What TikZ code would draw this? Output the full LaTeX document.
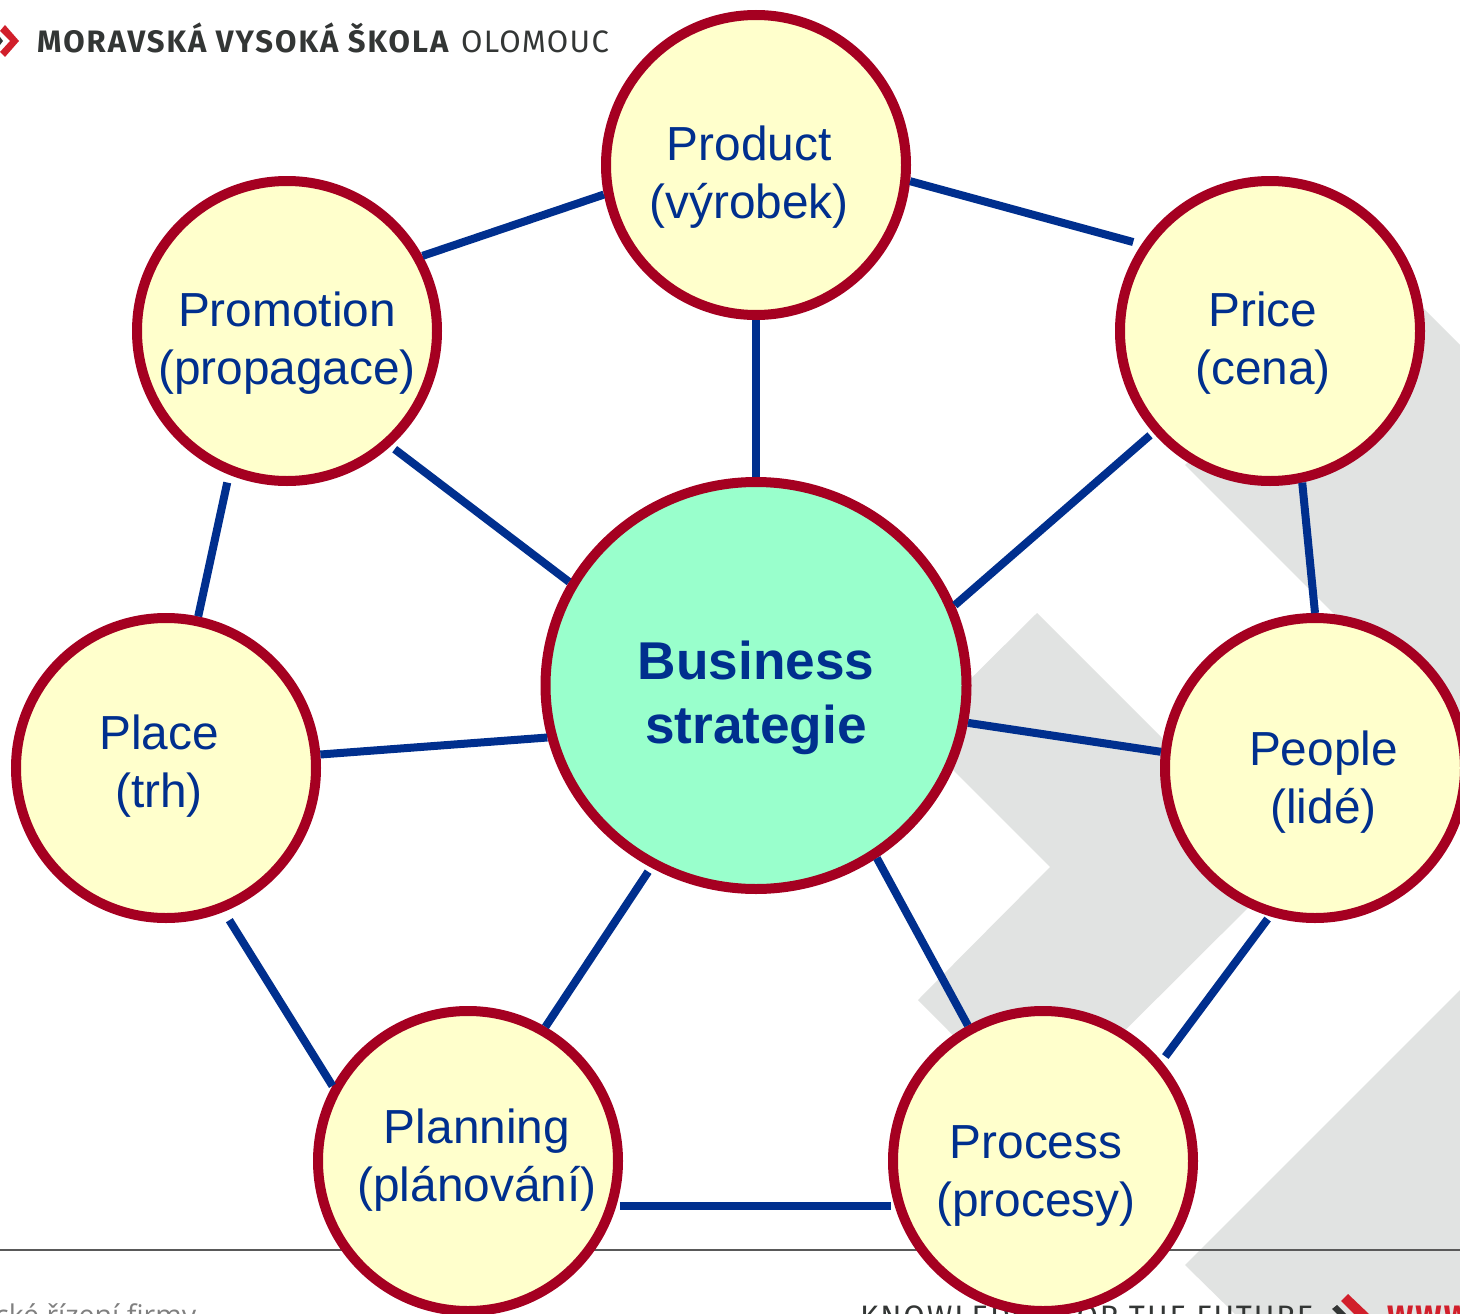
\documentclass[tikz,border=0pt]{standalone}
\usepackage{fontspec}
\usetikzlibrary{shapes.geometric}
\setmainfont{Liberation Sans}
\newfontfamily\logofont[LetterSpace=6.5]{Fira Sans}
\newfontfamily\cityfont[LetterSpace=4.2]{Fira Sans}
\newfontfamily\mottofont[LetterSpace=6.1]{Fira Sans}
\newfontfamily\footfont{Open Sans}
\definecolor{ringred}{HTML}{A50021}
\definecolor{linkblue}{HTML}{002F8E}
\definecolor{paleyellow}{HTML}{FFFFCC}
\definecolor{palegreen}{HTML}{99FFCC}
\definecolor{wmgrey}{HTML}{E1E3E2}
\definecolor{logodark}{HTML}{333635}
\definecolor{logored}{HTML}{D11F2B}
\tikzset{
  ring/.style={circle,draw=ringred,fill=paleyellow,line width=10pt,minimum size=300pt,inner sep=0pt},
  hub/.style={ellipse,draw=ringred,fill=palegreen,line width=10pt,minimum width=421pt,minimum height=407pt,inner sep=0pt},
  lab/.style={text=linkblue,font=\fontsize{47.8pt}{58pt}\selectfont,align=center,inner sep=0pt,anchor=base},
  hublab/.style={text=linkblue,font=\fontsize{53.2pt}{64pt}\selectfont\bfseries,align=center,inner sep=0pt,anchor=base},
  link/.style={draw=linkblue,line width=8pt},
  wm/.style={fill=wmgrey,draw=none}
}
\begin{document}
\begin{tikzpicture}[x=1pt,y=-1pt]
\useasboundingbox (0,0) rectangle (1460,1314);
\clip (0,0) rectangle (1460,1314);
\fill[white] (0,0) rectangle (1460,1314);
% watermark chevrons
\fill[wm] (1037,613) -- (1290,866) -- (1036,1119) -- (918,1000) -- (1050,867) -- (916,733) -- cycle;
\fill[wm] (1185,465) -- (1382,267) -- (1460,345) -- (1460,740) -- cycle;
\fill[wm] (1460,990) -- (1185,1265) -- (1235,1314) -- (1460,1314) -- cycle;
% footer rule
\draw[draw=black!65,line width=1.5pt] (0,1250) -- (1460,1250);
% header logo
\fill[logored] (0,31) -- (5,25) -- (19,41) -- (5,57) -- (0,52) -- (10,41) -- cycle;
\fill[logodark] (0,37) -- (3,41) -- (0,45) -- cycle;
\node[anchor=base west,inner sep=0pt,text=logodark,font=\fontsize{31pt}{31pt}\logofont\bfseries] (school) at (37,53) {MORAVSKÁ VYSOKÁ ŠKOLA};
\node[anchor=base west,inner sep=0pt,text=logodark,font=\fontsize{31pt}{31pt}\cityfont] (city) at (461,53) {OLOMOUC};
% footer
\node[anchor=base west,inner sep=0pt,text=black!50,font=\fontsize{28.5pt}{28.5pt}\footfont] (course) at (-5,1325) {cké řízení firmy};
\node[anchor=base west,inner sep=0pt,text=logodark,font=\fontsize{31pt}{31pt}\mottofont] (motto) at (860,1327) {KNOWLEDGE FOR THE FUTURE};
\fill[logodark] (1332,1309) -- (1337,1305) -- (1346,1314) -- (1337,1314) -- cycle;
\fill[logored] (1341,1301) -- (1348,1294) -- (1369,1314) -- (1354,1314) -- cycle;
\node[anchor=base west,inner sep=0pt,text=logored,font=\fontsize{31pt}{31pt}\logofont\bfseries] (web) at (1387,1327) {WWW};
% circles
\node[hub] (biz) at (756,685.5) {};
\node[ring] (product) at (756,165) {};
\node[ring] (promotion) at (287,331) {};
\node[ring] (price) at (1270,331) {};
\node[ring] (place) at (166,768) {};
\node[ring] (people) at (1315,768) {};
\node[ring] (planning) at (468,1161) {};
\node[ring] (process) at (1043,1161) {};
% labels
\node[hublab] (bizt) at (756,743) {Business\\strategie};
\node[lab] (productt) at (749,218.5) {Product\\(výrobek)};
\node[lab] (promotiont) at (287,384.5) {Promotion\\(propagace)};
\node[lab] (pricet) at (1263,384.5) {Price\\(cena)};
\node[lab] (placet) at (159,807.5) {Place\\(trh)};
\node[lab] (peoplet) at (1323.5,823) {People\\(lidé)};
\node[lab] (planningt) at (477,1201) {Planning\\(plánování)};
\node[lab] (processt) at (1036,1216) {Process\\(procesy)};
% connectors
\draw[link,shorten >=8.6pt] (product.-6) -- (price.146.2);
\draw[link] (promotion.29) -- (product.191.2);
\draw[link] (product.-90) -- (biz.90);
\draw[link,shorten <=5pt] (promotion.-48) -- (biz.151.6);
\draw[link,shorten <=4pt] (price.221.2) -- (biz.22.8);
\draw[link] (price.-78.4) -- (people.90);
\draw[link] (biz.-10.4) -- (people.174);
\draw[link] (place.5.2) -- (biz.194.6);
\draw[link,shorten >=8pt] (place.78.4) -- (promotion.248);
\draw[link,shorten <=10pt] (place.-68) -- (planning.151.1);
\draw[link,shorten >=5pt] (planning.60.4) -- (biz.240.4);
\draw[link] (process.119.1) -- (biz.-55.2);
\draw[link,shorten <=6pt,shorten >=3.5pt] (process.40.7) -- (people.253);
\draw[link,shorten <=4pt,shorten >=4pt] (planning.-17.6) -- (process.197.6);
\end{tikzpicture}
\end{document}
